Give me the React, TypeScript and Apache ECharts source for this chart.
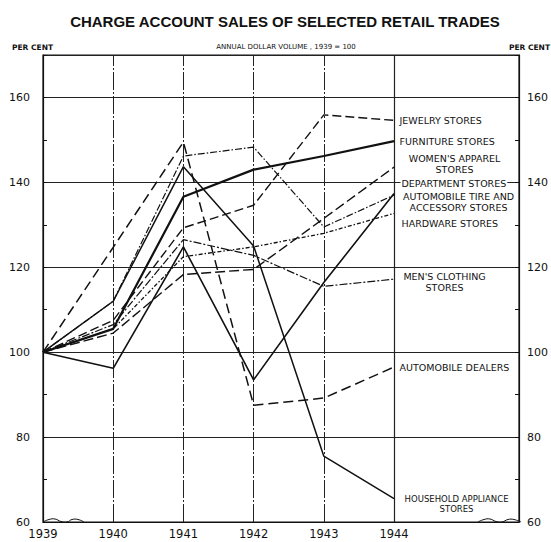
import React, { useEffect, useRef } from 'react';
import * as echarts from 'echarts';

const years = [1939, 1940, 1941, 1942, 1943, 1944];
const jewelryStores = [100, 107.5, 129.3, 134.6, 155.9, 154.6];
const furnitureStores = [100, 105.5, 136.6, 143.0, 146.2, 149.7];
const womensApparelStores = [100, 104.5, 118.3, 119.5, 131.5, 143.6];
const departmentStores = [100, 112.0, 146.2, 148.3, 129.5, 137.0];
const autoTireStores = [100, 96.2, 124.8, 93.5, 116.4, 137.4];
const hardwareStores = [100, 105.5, 122.5, 124.8, 128.0, 132.7];
const mensClothingStores = [100, 106.5, 126.5, 122.8, 115.5, 117.2];
const automobileDealers = [100, 124.7, 149.5, 87.5, 89.2, 96.5];
const householdApplianceStores = [100, 112.0, 143.7, 125.0, 75.5, 65.5];

const yMin = 60;
const yMax = 170;
const yStep = 20;
const xMin = 1939;
const xMax = 1945.78;
const lastLabeledYear = 1944;

const FONT = 'DejaVu Sans';
const INK = '#111';

type Def = {
  label: string;
  data: number[];
  width: number;
  dash: any;
  dx: number;
  dy: number;
  align: 'left' | 'center';
  size?: number;
};

const defs: Def[] = [
  { label: 'JEWELRY STORES', data: jewelryStores, width: 1.4, dash: [9, 4], dx: 4, dy: 0, align: 'left' },
  { label: 'FURNITURE STORES', data: furnitureStores, width: 2.2, dash: 'solid', dx: 4, dy: 0, align: 'left' },
  { label: "WOMEN'S APPAREL\nSTORES", data: womensApparelStores, width: 1.4, dash: [10, 4], dx: 60, dy: -3, align: 'center' },
  { label: 'DEPARTMENT STORES', data: departmentStores, width: 1.2, dash: [7, 2, 1.5, 2], dx: 6, dy: -12, align: 'left' },
  { label: 'AUTOMOBILE TIRE AND\nACCESSORY STORES', data: autoTireStores, width: 1.6, dash: 'solid', dx: 64, dy: 9, align: 'center' },
  { label: 'HARDWARE STORES', data: hardwareStores, width: 1.3, dash: [4, 2, 1.5, 2], dx: 6, dy: 10, align: 'left' },
  { label: "MEN'S CLOTHING\nSTORES", data: mensClothingStores, width: 1.2, dash: [8, 2, 2, 2], dx: 50, dy: 3, align: 'center' },
  { label: 'AUTOMOBILE DEALERS', data: automobileDealers, width: 1.5, dash: [10, 5], dx: 4, dy: 0, align: 'left' },
  { label: 'HOUSEHOLD APPLIANCE\nSTORES', data: householdApplianceStores, width: 1.5, dash: 'solid', dx: 62, dy: 5, align: 'center', size: 8.5 },
];

export default function App() {
  const ref = useRef<HTMLDivElement>(null);
  useEffect(() => {
    if (!ref.current) return;
    const chart = echarts.init(ref.current, undefined, { renderer: 'svg' });

    const series: any[] = defs.map((d, si) => ({
      type: 'line',
      name: d.label.replace('\n', ' '),
      yAxisIndex: 0,
      symbol: 'circle',
      symbolSize: 1,
      showSymbol: true,
      itemStyle: { color: 'rgba(0,0,0,0)' },
      lineStyle: { color: INK, width: d.width, type: d.dash },
      z: 3,
      data: years.map((y, i) =>
        i === years.length - 1
          ? {
              value: [y, d.data[i]],
              label: {
                show: true,
                position: 'right',
                distance: 0,
                formatter: d.label,
                align: d.align,
                verticalAlign: 'middle',
                offset: [d.dx, d.dy],
                color: INK,
                fontFamily: FONT,
                fontSize: d.size ?? 9.5,
                lineHeight: d.size ? 10 : 11,
                backgroundColor: '#fff',
                padding: [0, 1],
              },
            }
          : [y, d.data[i]]
      ),
      markLine:
        si === 0
          ? {
              silent: true,
              symbol: ['none', 'none'],
              label: { show: false },
              z: 1,
              data: years.slice(1).map((y) => ({
                xAxis: y,
                lineStyle: {
                  type: y === lastLabeledYear ? 'solid' : [18, 2, 2, 2],
                  width: y === lastLabeledYear ? 1.2 : 1,
                  color: '#222',
                },
              })),
            }
          : undefined,
    }));

    const yLabelFmt = (v: number) => (v > 160 ? '' : String(v));

    chart.setOption({
      animation: false,
      backgroundColor: '#fff',
      grid: { left: 43, right: 30, top: 55, bottom: 20, show: true, borderColor: INK, borderWidth: 1.2 },
      xAxis: {
        type: 'value',
        min: xMin,
        max: xMax,
        interval: 1,
        axisLine: { show: true, lineStyle: { color: INK, width: 1.2 } },
        axisTick: { show: false },
        splitLine: { show: false },
        axisLabel: {
          color: INK,
          fontFamily: FONT,
          fontSize: 11.5,
          margin: 6,
          formatter: (v: number) => (v <= lastLabeledYear && Number.isInteger(v) ? String(v) : ''),
        },
      },
      yAxis: [
        {
          type: 'value',
          min: yMin,
          max: yMax,
          interval: yStep,
          position: 'left',
          axisLine: { show: true, lineStyle: { color: INK, width: 1.2 } },
          axisTick: { show: true, inside: true, length: 4, lineStyle: { color: INK } },
          minorTick: { show: true, splitNumber: 2, length: 4, lineStyle: { color: INK } },
          splitLine: { show: true, lineStyle: { color: '#222', width: 1.2 } },
          axisLabel: { color: INK, fontFamily: FONT, fontSize: 11, margin: 13, formatter: yLabelFmt },
        },
        {
          type: 'value',
          min: yMin,
          max: yMax,
          interval: yStep,
          position: 'right',
          axisLine: { show: true, lineStyle: { color: INK, width: 1.2 } },
          axisTick: { show: true, inside: true, length: 4, lineStyle: { color: INK } },
          minorTick: { show: true, splitNumber: 2, length: 4, lineStyle: { color: INK } },
          splitLine: { show: false },
          axisLabel: { color: INK, fontFamily: FONT, fontSize: 11, margin: 8, formatter: yLabelFmt },
        },
      ],
      series,
      graphic: [
        {
          type: 'text',
          x: 285,
          y: 21,
          style: {
            text: 'CHARGE ACCOUNT SALES OF SELECTED RETAIL TRADES',
            fontFamily: 'Liberation Sans',
            fontWeight: 'bold',
            fontSize: 15,
            fill: INK,
            textAlign: 'center',
            textVerticalAlign: 'middle',
          },
        },
        {
          type: 'text',
          x: 12,
          y: 47,
          style: { text: 'PER CENT', fontFamily: FONT, fontWeight: 'bold', fontSize: 7.5, fill: INK, textVerticalAlign: 'middle' },
        },
        {
          type: 'text',
          x: 286,
          y: 47,
          style: {
            text: 'ANNUAL DOLLAR VOLUME , 1939 = 100',
            fontFamily: FONT,
            fontSize: 7,
            fill: INK,
            textAlign: 'center',
            textVerticalAlign: 'middle',
          },
        },
        {
          type: 'text',
          x: 550,
          y: 47,
          style: {
            text: 'PER CENT',
            fontFamily: FONT,
            fontWeight: 'bold',
            fontSize: 7.5,
            fill: INK,
            textAlign: 'right',
            textVerticalAlign: 'middle',
          },
        },
        {
          type: 'polyline',
          shape: { points: [[43, 522], [49, 519.5], [55, 519], [61, 521.5], [67, 522], [72, 519.5], [78, 519.5], [84, 522]], smooth: 0.5 },
          style: { stroke: INK, lineWidth: 1, fill: 'none' },
        },
        {
          type: 'polyline',
          shape: { points: [[478, 522], [484, 519.5], [490, 519], [496, 521.5], [502, 522], [508, 519.5], [514, 519.5], [521, 522]], smooth: 0.5 },
          style: { stroke: INK, lineWidth: 1, fill: 'none' },
        },
      ],
    });
    return () => chart.dispose();
  }, []);

  return <div ref={ref} style={{ width: 551, height: 542, position: 'absolute', left: 0, top: 0 }} />;
}
